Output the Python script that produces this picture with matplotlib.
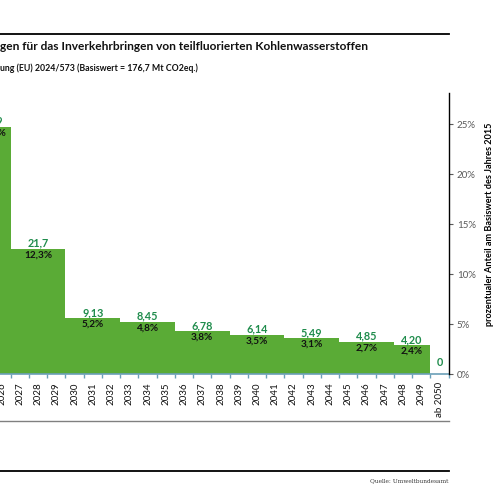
import matplotlib.pyplot as plt
from matplotlib.lines import Line2D
from matplotlib.ticker import FixedLocator
import numpy as np

plt.rcParams['font.family'] = ['Lato', 'DejaVu Sans']

# Kategorien (Jahre) und Höchstmengen in Mt CO2eq.
jahre = ['2025', '2026', '2027', '2028', '2029', '2030', '2031', '2032', '2033',
         '2034', '2035', '2036', '2037', '2038', '2039', '2040', '2041', '2042',
         '2043', '2044', '2045', '2046', '2047', '2048', '2049', 'ab 2050']
mengen = [43.9, 43.9, 21.7, 21.7, 21.7, 9.13, 9.13, 9.13, 8.45, 8.45, 8.45,
          6.78, 6.78, 6.78, 6.14, 6.14, 6.14, 5.49, 5.49, 5.49, 4.85, 4.85, 4.85,
          4.20, 4.20, 0]
wert_labels = ['43,9', '21,7', '9,13', '8,45', '6,78', '6,14', '5,49', '4,85', '4,20', '0']
basiswert = 176.7
prozent_ticks = [0, 5, 10, 15, 20, 25]

gruen = '#5aab36'
gruen_text = '#1f8c4c'
achse_blau = '#6b9fb8'

W = 500
fig = plt.figure(figsize=(5, 5), dpi=100)

def fx(px):
    return px / W

def fy(py):
    return 1 - py / W

left_px, right_px, top_px, bot_px = -25.7, 448.5, 93, 374
ax = fig.add_axes([fx(left_px), fy(bot_px), fx(right_px - left_px), (bot_px - top_px) / W])

x = np.arange(len(jahre))
v = np.array(mengen)
ymin = -1.0
ax.set_xlim(-0.5, len(jahre) - 0.5)
ax.set_ylim(ymin, 50)
m = v > 0
ax.bar(x[m], v[m] - ymin, bottom=ymin, width=1.0, color=gruen, linewidth=0)

# Beschriftungen je Gruppe
grenzen = [0] + [i for i in range(1, len(v)) if v[i] != v[i - 1]] + [len(v)]
for g in range(len(grenzen) - 1):
    a, b = grenzen[g], grenzen[g + 1]
    mitte = (a + b - 1) / 2
    wert = v[a]
    ax.annotate(wert_labels[g], (mitte, wert), xytext=(0, 1.6), textcoords='offset points',
                ha='center', va='baseline', fontsize=7.8, fontweight='bold', color=gruen_text)
    if wert > 0:
        p = f"{wert / basiswert * 100:.1f}".replace('.', ',') + '%'
        ax.annotate(p, (mitte, wert), xytext=(0, -1.2), textcoords='offset points',
                    ha='center', va='top', fontsize=7.2, fontweight='bold', color='#111111')

for s in ['left', 'top', 'right']:
    ax.spines[s].set_visible(False)
ax.spines['bottom'].set_color(achse_blau)
ax.spines['bottom'].set_linewidth(1.2)
ax.spines['bottom'].set_position(('data', ymin))
ax.set_yticks([])
ax.set_xticks(x)
ax.set_xticklabels(jahre, rotation=90, fontsize=7, color='#111111')
ax.tick_params(axis='x', which='major', length=0, pad=6)
ax.xaxis.set_minor_locator(FixedLocator(np.arange(-0.5, len(jahre), 1.0)))
ax.tick_params(axis='x', which='minor', length=3, color=achse_blau, width=1)

ax2 = ax.twinx()
ax2.set_ylim(0, 28.1)
ax2.set_yticks(prozent_ticks)
ax2.set_yticklabels([f'{t}%' for t in prozent_ticks], fontsize=7, color='#595959')
ax2.tick_params(axis='y', length=3, color='#595959', pad=3)
for s in ['left', 'top', 'bottom']:
    ax2.spines[s].set_visible(False)
ax2.spines['right'].set_color('black')
ax2.spines['right'].set_linewidth(1.0)

fig.text(fx(489), fy(224), 'prozentualer Anteil am Basiswert des Jahres 2015', rotation=90,
         ha='center', va='center', fontsize=6.6, fontweight='bold')

# Titel
fig.text(0, fy(47), 'gen für das Inverkehrbringen von teilfluorierten Kohlenwasserstoffen',
         ha='left', va='center', fontsize=8.6, fontweight='bold', color='#111111')
fig.text(0, fy(68), 'ung (EU) 2024/573 (Basiswert = 176,7 Mt CO2eq.)',
         ha='left', va='center', fontsize=6.3, fontweight='bold', color='#111111')

# Rahmenlinien
fig.add_artist(Line2D([0, fx(449)], [fy(34), fy(34)], color='black', lw=1.3))
fig.add_artist(Line2D([0, fx(449)], [fy(421), fy(421)], color='#808080', lw=1.0))
fig.add_artist(Line2D([0, fx(449)], [fy(471), fy(471)], color='black', lw=1.3))
fig.text(fx(449), fy(481), 'Quelle: Umweltbundesamt', ha='right', va='center',
         fontsize=4.2, family='DejaVu Serif', color='#333333')

fig.savefig('out.png', dpi=100)
